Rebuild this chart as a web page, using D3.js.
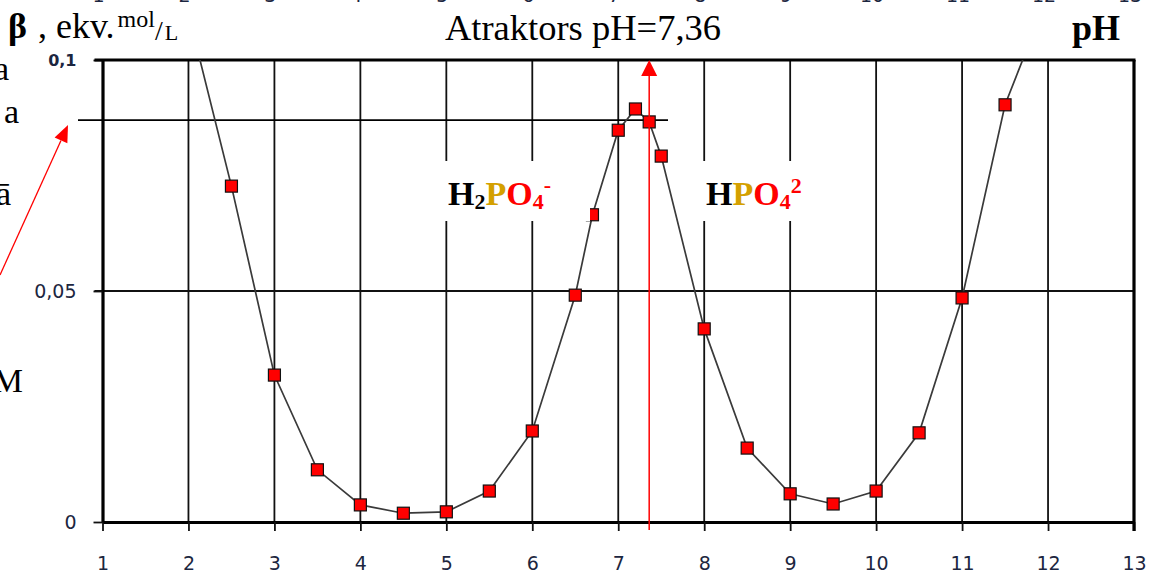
<!DOCTYPE html>
<html>
<head>
<meta charset="utf-8">
<script src="https://cdn.jsdelivr.net/npm/d3@7"></script>
<style>
  html, body { margin: 0; padding: 0; background: #fff; }
  svg { display: block; }
</style>
</head>
<body>
<div id="chart"></div>
<script>
// pH points and buffer capacity beta (ekv. mol/L)
const phValues = [2, 2.5, 3, 3.5, 4, 4.5, 5, 5.5, 6, 6.5, 6.7, 7, 7.2, 7.36, 7.5, 8, 8.5, 9, 9.5, 10, 10.5, 11, 11.5, 12];
const betaValues = [0.110, 0.0727, 0.0318, 0.0113, 0.0037, 0.0019, 0.0022, 0.0067, 0.0197, 0.0491, 0.0665, 0.0848, 0.0894, 0.0866, 0.0792, 0.0418, 0.0160, 0.0061, 0.0039, 0.0067, 0.0193, 0.0485, 0.0903, 0.114];
const xTicks = [1, 2, 3, 4, 5, 6, 7, 8, 9, 10, 11, 12, 13];
const yTicks = [0, 0.05, 0.1];
const attractorPh = 7.36;
const attractorBeta = 0.087;
const titleText = 'Atraktors pH=7,36';

const width = 1160, height = 577;
const margin = { top: 60, right: 26, bottom: 55, left: 102.5 };

const x = d3.scaleLinear().domain([1, 13]).range([margin.left, width - margin.right]);
const y = d3.scaleLinear().domain([0, 0.1]).range([height - margin.bottom, margin.top]);

const svg = d3.select('#chart').append('svg')
  .attr('width', width)
  .attr('height', height);

const serif = '"Liberation Serif", "Times New Roman", serif';
const sans = '"DejaVu Sans", Verdana, sans-serif';

svg.append('defs').append('clipPath')
  .attr('id', 'plotClip')
  .append('rect')
  .attr('x', x(1)).attr('y', y(0.1))
  .attr('width', x(13) - x(1)).attr('height', y(0) - y(0.1));

// cut-off labels of the chart above (only bottoms visible)
svg.append('g').selectAll('text')
  .data(xTicks)
  .enter().append('text')
  .attr('x', d => x(d) - 4)
  .attr('y', 2)
  .attr('text-anchor', 'middle')
  .attr('font-family', sans)
  .attr('font-size', '19px')
  .attr('fill', '#1c2640')
  .text(d => d);

// gridlines
const grid = svg.append('g');
grid.selectAll('line.v')
  .data(xTicks.slice(1, -1))
  .enter().append('line')
  .attr('class', 'v')
  .attr('x1', d => x(d)).attr('x2', d => x(d))
  .attr('y1', y(0)).attr('y2', y(0.1))
  .attr('stroke', '#111')
  .attr('stroke-width', 1.8);
grid.append('line')
  .attr('x1', x(1) - 8).attr('x2', x(13))
  .attr('y1', y(0.05)).attr('y2', y(0.05))
  .attr('stroke', '#111')
  .attr('stroke-width', 1.8);

// axes
const xAxis = svg.append('g')
  .attr('transform', `translate(0,${y(0)})`)
  .call(d3.axisBottom(x).tickValues(xTicks).tickSize(9).tickSizeOuter(0).tickPadding(26));
xAxis.select('.domain').attr('stroke', '#000').attr('stroke-width', 3.2);
xAxis.selectAll('.tick line').attr('stroke', '#111').attr('stroke-width', 1.8);
xAxis.selectAll('.tick text')
  .attr('font-family', sans)
  .attr('font-size', '19px')
  .attr('fill', '#1c2640');

const fmt = d => d === 0 ? '0' : String(d).replace('.', ',');
const yAxis = svg.append('g')
  .attr('transform', `translate(${x(1)},0)`)
  .call(d3.axisLeft(y).tickValues(yTicks).tickFormat(fmt).tickSize(9).tickSizeOuter(0).tickPadding(17));
yAxis.select('.domain').attr('stroke', '#000').attr('stroke-width', 3.2);
yAxis.selectAll('.tick line').attr('stroke', '#111').attr('stroke-width', 1.8);
yAxis.selectAll('.tick text')
  .attr('font-family', sans)
  .attr('font-size', d => d === 0.1 ? '16px' : '19px')
  .attr('font-weight', d => d === 0.1 ? 'bold' : 'normal')
  .attr('fill', '#1c2640');

// top and right frame
svg.append('line')
  .attr('x1', x(1) - 8).attr('x2', x(13) + 1.5)
  .attr('y1', y(0.1)).attr('y2', y(0.1))
  .attr('stroke', '#000').attr('stroke-width', 3.2);
svg.append('line')
  .attr('x1', x(13)).attr('x2', x(13))
  .attr('y1', y(0.1)).attr('y2', y(0) + 9)
  .attr('stroke', '#000').attr('stroke-width', 3.2);

// attractor horizontal line
svg.append('line')
  .attr('x1', 78).attr('x2', 668)
  .attr('y1', y(attractorBeta)).attr('y2', y(attractorBeta))
  .attr('stroke', '#000').attr('stroke-width', 1.8);

// curve
const points = phValues.map((p, i) => ({ ph: p, beta: betaValues[i] }));
const plot = svg.append('g').attr('clip-path', 'url(#plotClip)');
plot.append('path')
  .datum(points)
  .attr('fill', 'none')
  .attr('stroke', '#3a3a3a')
  .attr('stroke-width', 1.7)
  .attr('d', d3.line().x(d => x(d.ph)).y(d => y(d.beta)));

// red attractor arrow
svg.append('line')
  .attr('x1', x(attractorPh)).attr('x2', x(attractorPh))
  .attr('y1', y(0) + 8).attr('y2', y(0.1) + 14)
  .attr('stroke', '#ff0000').attr('stroke-width', 1.5);
svg.append('path')
  .attr('d', `M${x(attractorPh)},${y(0.1)} L${x(attractorPh) - 8},${y(0.1) + 16} L${x(attractorPh) + 8},${y(0.1) + 16} Z`)
  .attr('fill', '#ff0000');

// markers
plot.selectAll('rect.pt')
  .data(points)
  .enter().append('rect')
  .attr('class', 'pt')
  .attr('x', d => x(d.ph) - 6)
  .attr('y', d => y(d.beta) - 6)
  .attr('width', 12).attr('height', 12)
  .attr('fill', '#ff0000')
  .attr('stroke', '#111')
  .attr('stroke-width', 1.2);

// white boxes behind the ion labels (they hide the gridlines)
const boxes = [[440, 590], [698, 800]];
svg.append('g').selectAll('rect')
  .data(boxes)
  .enter().append('rect')
  .attr('x', d => d[0]).attr('width', d => d[1] - d[0])
  .attr('y', 161).attr('height', 60)
  .attr('fill', '#fff');

// diagonal red arrow from the left
const tip = [68, 125], tail = [0, 275];
const ang = Math.atan2(tip[1] - tail[1], tip[0] - tail[0]);
const headLen = 17, headW = 7;
const bx = tip[0] - headLen * Math.cos(ang), by = tip[1] - headLen * Math.sin(ang);
svg.append('line')
  .attr('x1', tail[0]).attr('y1', tail[1]).attr('x2', bx).attr('y2', by)
  .attr('stroke', '#ff0000').attr('stroke-width', 1.3);
svg.append('path')
  .attr('d', `M${tip[0]},${tip[1]} L${bx + headW * Math.sin(ang)},${by - headW * Math.cos(ang)} L${bx - headW * Math.sin(ang)},${by + headW * Math.cos(ang)} Z`)
  .attr('fill', '#ff0000');

// title texts
svg.append('text')
  .attr('x', 583).attr('y', 40)
  .attr('text-anchor', 'middle')
  .attr('font-family', serif)
  .attr('font-size', '36.5px')
  .attr('fill', '#000')
  .text(titleText);

svg.append('text')
  .attr('x', 1072).attr('y', 40)
  .attr('font-family', serif)
  .attr('font-size', '36px')
  .attr('font-weight', 'bold')
  .attr('fill', '#000')
  .text('pH');

const yLab = svg.append('text')
  .attr('x', 8).attr('y', 38)
  .attr('font-family', serif)
  .attr('fill', '#000');
yLab.append('tspan').attr('font-size', '36px').attr('font-weight', 'bold').text('β');
yLab.append('tspan').attr('font-size', '36px').attr('dx', 2).text('\u00a0, ekv.');
yLab.append('tspan').attr('font-size', '24px').attr('dx', 3).attr('dy', -11).text('mol');
yLab.append('tspan').attr('font-size', '28px').attr('dy', 13).text('/');
yLab.append('tspan').attr('font-size', '22px').attr('dx', 2).attr('dy', 0).text('L');

// ion labels
function ionLabel(xPos, parts) {
  const t = svg.append('text')
    .attr('x', xPos).attr('y', 205)
    .attr('font-family', serif)
    .attr('font-weight', 'bold');
  parts.forEach(p => {
    t.append('tspan')
      .attr('font-size', p.size + 'px')
      .attr('dy', p.dy || 0)
      .attr('fill', p.color)
      .text(p.s);
  });
}
ionLabel(448, [
  { s: 'H', size: 34, color: '#000' },
  { s: '2', size: 22, color: '#000', dy: 4 },
  { s: 'P', size: 34, color: '#d4a000', dy: -4 },
  { s: 'O', size: 34, color: '#ff0000' },
  { s: '4', size: 22, color: '#ff0000', dy: 4 },
  { s: '-', size: 22, color: '#ff0000', dy: -17 }
]);
ionLabel(706, [
  { s: 'H', size: 34, color: '#000' },
  { s: 'P', size: 34, color: '#d4a000' },
  { s: 'O', size: 34, color: '#ff0000' },
  { s: '4', size: 22, color: '#ff0000', dy: 4 },
  { s: '2', size: 22, color: '#ff0000', dy: -16 }
]);

// cut-off text at the left edge
const edgeTexts = [
  { s: 'a', x: 9, y: 80 },
  { s: 'a', x: 19, y: 123 },
  { s: 'ā', x: 11, y: 205 },
  { s: 'M', x: 23, y: 392 }
];
svg.append('g').selectAll('text')
  .data(edgeTexts)
  .enter().append('text')
  .attr('x', d => d.x).attr('y', d => d.y)
  .attr('text-anchor', 'end')
  .attr('font-family', serif)
  .attr('font-size', '34px')
  .attr('fill', '#000')
  .text(d => d.s);
</script>
</body>
</html>
